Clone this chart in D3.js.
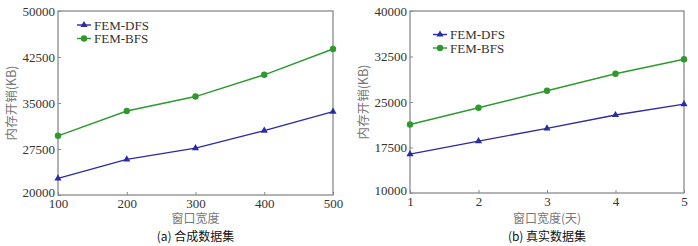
<!DOCTYPE html>
<html>
<head>
<meta charset="utf-8">
<script src="https://cdn.jsdelivr.net/npm/d3@7"></script>
<style>
  body { margin: 0; background: #fff; }
  svg text { font-family: "Liberation Serif", "Times New Roman", serif; fill: #333; }
  svg text.cjk { font-family: "Noto Sans CJK SC", sans-serif; }
</style>
</head>
<body>
<svg id="chart" width="698" height="246"></svg>
<script>
// data
var seriesNames = ["FEM-DFS", "FEM-BFS"]
var colors = ["#2b2ba3", "#2e9a2e"]

var xSynthetic = [100, 200, 300, 400, 500]
var dfsSynthetic = [22700, 25800, 27650, 30500, 33600]
var bfsSynthetic = [29650, 33700, 36050, 39600, 43800]
var yTicksSynthetic = [20000, 27500, 35000, 42500, 50000]

var xReal = [1, 2, 3, 4, 5]
var dfsReal = [16400, 18550, 20650, 22850, 24650]
var bfsReal = [21300, 24050, 26850, 29650, 32050]
var yTicksReal = [10000, 17500, 25000, 32500, 40000]

var svg = d3.select("#chart")

function drawPanel(opt) {
  var g = svg.append("g")
  var x = d3.scaleLinear().domain(d3.extent(opt.xs)).range([opt.left, opt.right])
  var y = d3.scaleLinear().domain(d3.extent(opt.yTicks)).range([opt.bottom, opt.top])

  // frame
  g.append("rect")
    .attr("x", opt.left).attr("y", opt.top)
    .attr("width", opt.right - opt.left).attr("height", opt.bottom - opt.top)
    .attr("fill", "none").attr("stroke", "#8a8a8a").attr("stroke-width", 1.3)

  // axes with small inward ticks
  var xAxis = g.append("g").attr("transform", "translate(0," + opt.bottom + ")")
    .call(d3.axisBottom(x).tickValues(opt.xs).tickFormat(d3.format("d"))
      .tickSizeInner(-3).tickSizeOuter(0).tickPadding(6))
  var yAxis = g.append("g").attr("transform", "translate(" + opt.left + ",0)")
    .call(d3.axisLeft(y).tickValues(opt.yTicks).tickFormat(d3.format("d"))
      .tickSizeInner(-3).tickSizeOuter(0).tickPadding(3))
  ;[xAxis, yAxis].forEach(function(a) {
    a.attr("font-family", null).attr("font-size", null)
    a.select(".domain").remove()
    a.selectAll("line").attr("stroke", "#8a8a8a")
    a.selectAll("text").style("font-size", "13px").attr("fill", "#333")
  })
  xAxis.selectAll("text").attr("dy", "0.5em")
  // bottom y label sits just above the first x label, as in the original
  yAxis.selectAll(".tick text").filter(function(d) { return d == opt.yTicks[0] }).attr("dy", "0.1em")

  // lines and markers
  var line = d3.line().x(function(d) { return x(d[0]) }).y(function(d) { return y(d[1]) })
  opt.series.forEach(function(vals, si) {
    var pts = opt.xs.map(function(v, i) { return [v, vals[i]] })
    g.append("path").datum(pts).attr("d", line)
      .attr("fill", "none").attr("stroke", colors[si]).attr("stroke-width", 1.4)
    if (si == 0) {
      g.selectAll(null).data(pts).enter().append("path")
        .attr("d", d3.symbol().type(d3.symbolTriangle).size(22))
        .attr("transform", function(d) { return "translate(" + x(d[0]) + "," + y(d[1]) + ")" })
        .attr("fill", colors[si])
    } else {
      g.selectAll(null).data(pts).enter().append("circle")
        .attr("cx", function(d) { return x(d[0]) }).attr("cy", function(d) { return y(d[1]) })
        .attr("r", 3.2).attr("fill", colors[si])
    }
  })

  // legend
  seriesNames.forEach(function(name, si) {
    var ly = opt.legendY + si * 13.5
    g.append("line").attr("x1", opt.legendX).attr("x2", opt.legendX + 14)
      .attr("y1", ly).attr("y2", ly).attr("stroke", colors[si]).attr("stroke-width", 1.4)
    if (si == 0) {
      g.append("path").attr("d", d3.symbol().type(d3.symbolTriangle).size(22))
        .attr("transform", "translate(" + (opt.legendX + 7) + "," + ly + ")").attr("fill", colors[si])
    } else {
      g.append("circle").attr("cx", opt.legendX + 7).attr("cy", ly).attr("r", 3.2).attr("fill", colors[si])
    }
    g.append("text").attr("x", opt.legendX + 17).attr("y", ly).attr("dy", "0.35em")
      .style("font-size", "13px").text(name)
  })

  // axis titles and caption
  g.append("text").attr("class", "cjk")
    .attr("x", (opt.left + opt.right) / 2).attr("y", 223).attr("text-anchor", "middle")
    .style("font-size", "12px").style("fill", "#777").text(opt.xTitle)
  g.append("text").attr("class", "cjk")
    .attr("transform", "translate(" + (opt.left - 42) + "," + ((opt.top + opt.bottom) / 2) + ") rotate(-90)")
    .attr("text-anchor", "middle").style("font-size", "12.5px").style("fill", "#777").text("内存开销(KB)")
  g.append("text").attr("class", "cjk")
    .attr("x", (opt.left + opt.right) / 2).attr("y", 241).attr("text-anchor", "middle")
    .style("font-size", "12px").style("fill", "#111").text(opt.caption)
}

drawPanel({
  left: 58, right: 333, top: 11, bottom: 195,
  xs: xSynthetic, yTicks: yTicksSynthetic, series: [dfsSynthetic, bfsSynthetic],
  legendX: 77, legendY: 25, xTitle: "窗口宽度", caption: "(a)  合成数据集"
})
drawPanel({
  left: 410, right: 684, top: 11, bottom: 193,
  xs: xReal, yTicks: yTicksReal, series: [dfsReal, bfsReal],
  legendX: 433, legendY: 34.5, xTitle: "窗口宽度(天)", caption: "(b)  真实数据集"
})
</script>
</body>
</html>
